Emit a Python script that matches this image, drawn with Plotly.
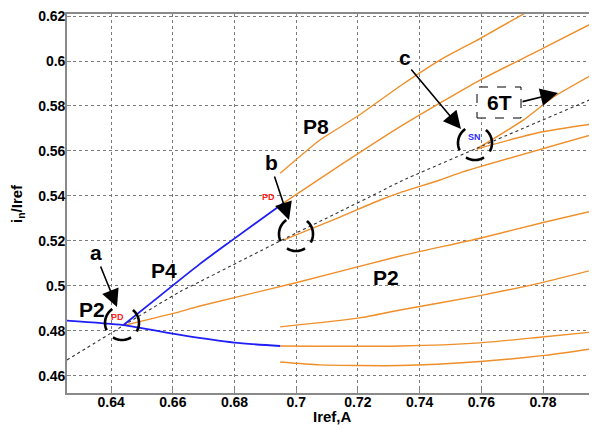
import math
import plotly.graph_objects as go

# ---------------- data ----------------
# blue P2 (stable) lower branch
p2_blue_x = [0.6257, 0.6440, 0.6624, 0.6799, 0.6948]
p2_blue_y = [0.4846, 0.4826, 0.4782, 0.4748, 0.4733]
# blue P4 branch
p4_blue_x = [0.6440, 0.6550, 0.6688, 0.6786, 0.6958]
p4_blue_y = [0.4826, 0.4947, 0.5098, 0.5197, 0.5368]
# black dotted branch
blk_x = [0.6257, 0.6440, 0.6624, 0.6688, 0.6948, 0.7142, 0.7272, 0.7337, 0.7585, 0.7975]
blk_y = [0.4671, 0.4824, 0.4975, 0.5019, 0.5200, 0.5331, 0.5419, 0.5464, 0.5612, 0.5841]
# orange branches
o_p2up_x = [0.6440, 0.6624, 0.6688, 0.6999, 0.7337, 0.7596, 0.7797, 0.7975]
o_p2up_y = [0.4824, 0.4886, 0.4911, 0.5014, 0.5133, 0.5212, 0.5281, 0.5338]
o_p8a_x = [0.6948, 0.7077, 0.7196, 0.7337, 0.7466, 0.7596, 0.7742]
o_p8a_y = [0.5501, 0.5649, 0.5752, 0.5889, 0.6004, 0.6100, 0.6213]
o_p8b_x = [0.6958, 0.7120, 0.7337, 0.7596, 0.7790, 0.7975]
o_p8b_y = [0.5368, 0.5516, 0.5708, 0.5915, 0.6049, 0.6179]
o_e_x = [0.6960, 0.7142, 0.7272, 0.7337, 0.7466, 0.7531, 0.7975]
o_e_y = [0.5205, 0.5306, 0.5382, 0.5415, 0.5471, 0.5503, 0.5679]
o_c_x = [0.7585, 0.7736, 0.7834, 0.7975]
o_c_y = [0.5609, 0.5737, 0.5840, 0.5951]
o_d_x = [0.7585, 0.7790, 0.7975]
o_d_y = [0.5609, 0.5683, 0.5723]
o_f_x = [0.6948, 0.7207, 0.7337, 0.7596, 0.7797, 0.7975]
o_f_y = [0.4818, 0.4858, 0.4893, 0.4957, 0.5015, 0.5076]
o_g_x = [0.6948, 0.7337, 0.7596, 0.7797, 0.7975]
o_g_y = [0.4733, 0.4733, 0.4747, 0.4773, 0.4797]
o_h_x = [0.6948, 0.7077, 0.7337, 0.7596, 0.7797, 0.7975]
o_h_y = [0.4662, 0.4649, 0.4646, 0.4664, 0.4690, 0.4724]

x_ticks = [0.64, 0.66, 0.68, 0.70, 0.72, 0.74, 0.76, 0.78]
x_tick_labels = ["0.64", "0.66", "0.68", "0.7", "0.72", "0.74", "0.76", "0.78"]
y_ticks = [0.46, 0.48, 0.50, 0.52, 0.54, 0.56, 0.58, 0.60, 0.62]
y_tick_labels = ["0.46", "0.48", "0.5", "0.52", "0.54", "0.56", "0.58", "0.6", "0.62"]

# ---------------- layout geometry ----------------
OFF = 8                      # default page body margin
W, H = 597 - OFF, 429 - OFF  # figure size so that it fills the window
ML, MR, MT = 67 - OFF, 0, 14 - OFF
PW, PH = 530, 379
MB = H - MT - PH
XR = [0.6257, 0.7975]
YR = [0.4524, 0.6209]


def px2d(px, py):
    """page pixel -> data coordinates"""
    fx, fy = px - OFF, py - OFF
    x = XR[0] + (fx - ML) / PW * (XR[1] - XR[0])
    y = YR[1] - (fy - MT) / PH * (YR[1] - YR[0])
    return x, y


def px2paper(px, py):
    fx, fy = px - OFF, py - OFF
    return (fx - ML) / PW, 1 - (fy - MT) / PH


ORANGE = "#EE8F2A"
BLUE = "#1F1FF5"
FONT = "Arial, Liberation Sans, sans-serif"

fig = go.Figure()
for xs, ys in [(o_p2up_x, o_p2up_y), (o_p8a_x, o_p8a_y), (o_p8b_x, o_p8b_y),
               (o_e_x, o_e_y), (o_c_x, o_c_y), (o_d_x, o_d_y),
               (o_f_x, o_f_y), (o_g_x, o_g_y), (o_h_x, o_h_y)]:
    fig.add_trace(go.Scatter(x=xs, y=ys, mode="lines",
                             line=dict(color=ORANGE, width=1.4, shape="spline", smoothing=0.6),
                             hoverinfo="skip", showlegend=False))
fig.add_trace(go.Scatter(x=blk_x, y=blk_y, mode="lines",
                         line=dict(color="#333333", width=1.1, dash="dot", shape="spline", smoothing=0.6),
                         showlegend=False))
for xs, ys in [(p2_blue_x, p2_blue_y), (p4_blue_x, p4_blue_y)]:
    fig.add_trace(go.Scatter(x=xs, y=ys, mode="lines",
                             line=dict(color=BLUE, width=1.8, shape="spline", smoothing=0.6),
                             showlegend=False))

shapes = []


def arc(cx, cy, r, a0, a1, n=16):
    pts = []
    for i in range(n + 1):
        t = math.radians(a0 + (a1 - a0) * i / n)
        pts.append(px2d(cx + r * math.cos(t), cy - r * math.sin(t)))
    return "M " + " L ".join(f"{x:.6f},{y:.6f}" for x, y in pts)


for (cx, cy, r) in [(122, 323, 17), (296, 234, 17), (475, 143, 17)]:
    for a0, a1 in [(125, 205), (-30, 50), (238, 302)]:
        shapes.append(dict(type="path", path=arc(cx, cy, r, a0, a1), xref="x", yref="y",
                           line=dict(color="black", width=2.6)))

# dashed box for 6T
bx0, by0 = px2d(477, 87)
bx1, by1 = px2d(521, 118)
shapes.append(dict(type="rect", x0=bx0, y0=by1, x1=bx1, y1=by0, xref="x", yref="y",
                   line=dict(color="black", width=1, dash="dash"), fillcolor="white", layer="above"))

annotations = []


def label(px, py, text, size=21, color="black"):
    x, y = px2d(px, py)
    annotations.append(dict(x=x, y=y, xref="x", yref="y", text=text, showarrow=False,
                            font=dict(family=FONT, size=size, color=color, weight="bold"),
                            xanchor="center", yanchor="middle"))


def arrow(tx, ty, hx, hy):
    x, y = px2d(hx, hy)
    annotations.append(dict(x=x, y=y, xref="x", yref="y", text="", showarrow=True,
                            ax=tx - hx, ay=ty - hy, arrowhead=2, arrowsize=2.2,
                            arrowwidth=1.6, arrowcolor="black", standoff=0))


label(96, 252, "a")
label(92, 309, "P2")
label(164, 270, "P4")
label(316, 126, "P8")
label(271, 162, "b")
label(386, 277, "P2")
label(405, 57, "c")
label(499, 102, "6T")
label(117, 317, "PD", size=9, color="#FF2020")
label(268, 197, "PD", size=9, color="#FF2020")
label(474, 137, "SN", size=9, color="#2A2AFF")
arrow(100, 265, 117, 307)
arrow(274, 175, 289, 220)
arrow(410, 68, 461, 129)
arrow(521, 102, 558, 93)

# axis titles
tx, ty = px2paper(332, 416)
annotations.append(dict(x=tx, y=ty, xref="paper", yref="paper", text="Iref,A",
                        showarrow=False, xanchor="center", yanchor="middle",
                        font=dict(family=FONT, size=15, color="black", weight="bold")))
tx, ty = px2paper(17, 203)
annotations.append(dict(x=tx, y=ty, xref="paper", yref="paper",
                        text="i<sub>n</sub>/Iref", textangle=-90,
                        showarrow=False, xanchor="center", yanchor="middle",
                        font=dict(family=FONT, size=15, color="black", weight="bold")))

axis_common = dict(showgrid=True, gridcolor="#7a7a7a", griddash="dot", gridwidth=0.8,
                   showline=True, linecolor="#8a8a8a", linewidth=1.6, mirror=True,
                   ticks="inside", ticklen=4, tickcolor="#8a8a8a", zeroline=False,
                   automargin=False, ticklabeloverflow="allow",
                   tickfont=dict(family=FONT, size=14, color="black", weight="bold"))

fig.update_layout(
    width=W, height=H, margin=dict(l=ML, r=MR, t=MT, b=MB, autoexpand=False),
    paper_bgcolor="white", plot_bgcolor="white",
    xaxis=dict(range=XR, tickvals=x_ticks, ticktext=x_tick_labels, ticklabelstandoff=-5,
               **axis_common),
    yaxis=dict(range=YR, tickvals=y_ticks, ticktext=y_tick_labels, ticklabelstandoff=-3,
               **axis_common),
    shapes=shapes, annotations=annotations, showlegend=False,
)

fig.write_html("out.html")
